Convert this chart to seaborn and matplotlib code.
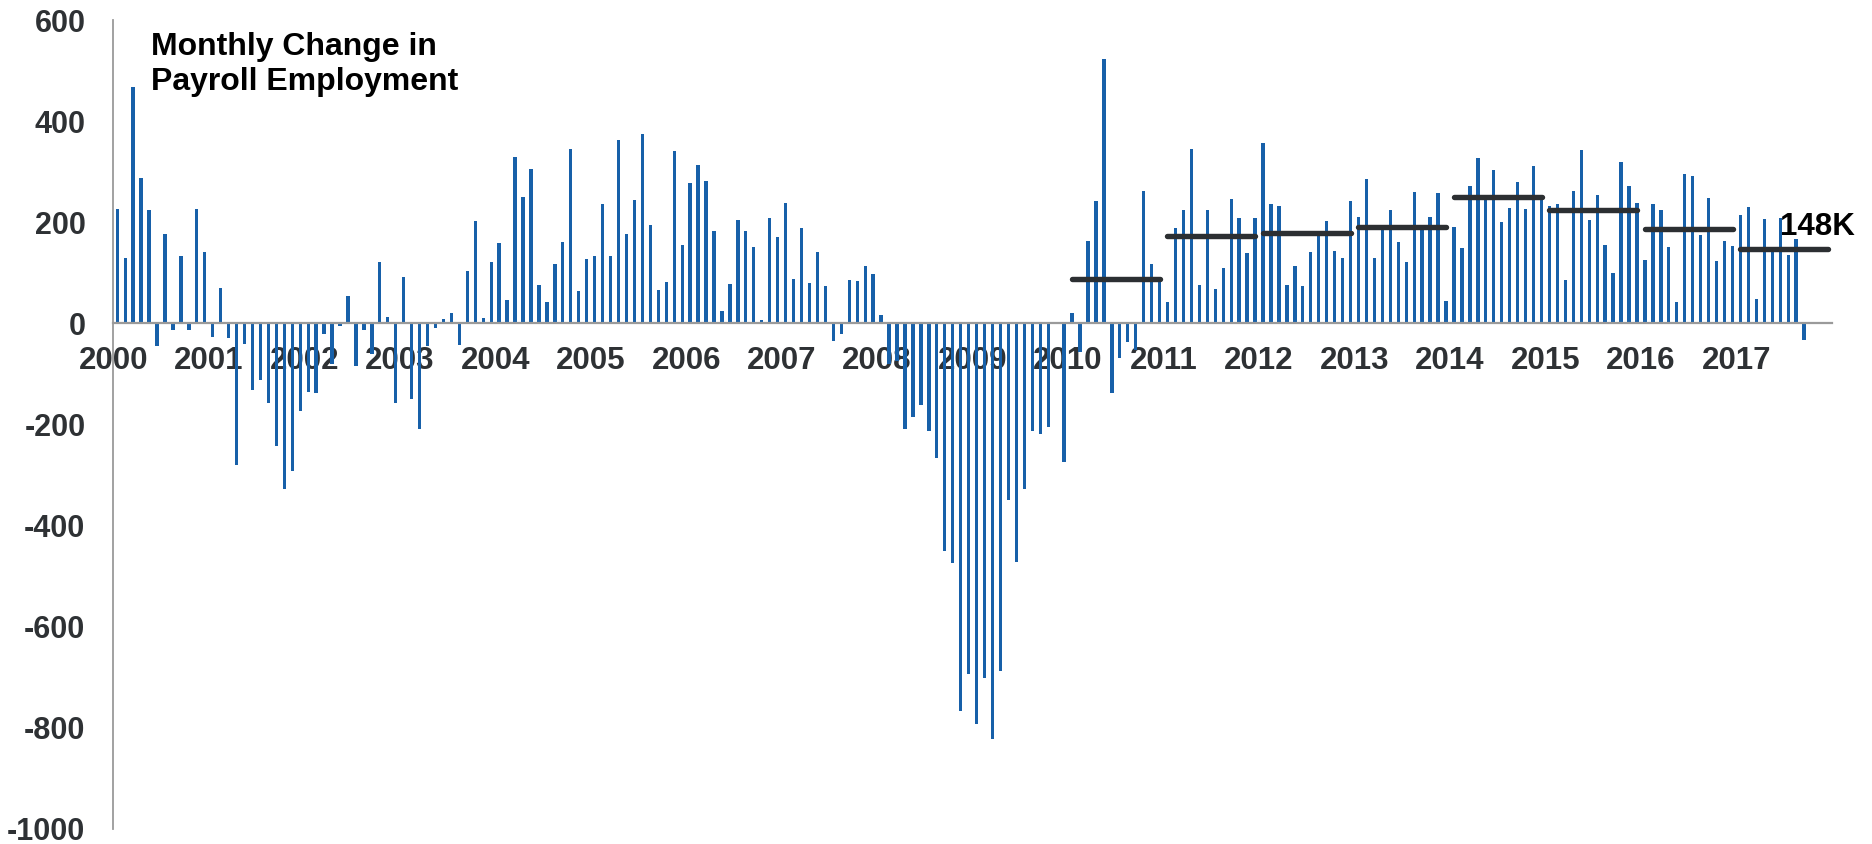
import numpy as np
import pandas as pd
import matplotlib
matplotlib.use("Agg")
import matplotlib.pyplot as plt
import seaborn as sns

# Monthly change in nonfarm payroll employment (thousands), Jan 2000 - Sep 2017
chg_2000 = [227, 130, 468, 287, 225, -45, 176, -14, 134, -14, 227, 141]
chg_2001 = [-26, 70, -28, -281, -41, -132, -112, -157, -242, -328, -292, -173]
chg_2002 = [-136, -137, -22, -80, -5, 55, -84, -14, -60, 121, 12, -158]
chg_2003 = [91, -150, -209, -45, -9, 9, 21, -42, 103, 202, 10, 122]
chg_2004 = [158, 47, 329, 250, 306, 76, 43, 117, 161, 345, 65, 128]
chg_2005 = [134, 237, 134, 363, 176, 244, 374, 194, 66, 82, 340, 155]
chg_2006 = [277, 314, 281, 182, 24, 78, 205, 182, 152, 7, 208, 171]
chg_2007 = [239, 88, 189, 79, 142, 74, -34, -21, 86, 83, 113, 97]
chg_2008 = [16, -80, -75, -209, -185, -161, -213, -266, -450, -473, -766, -694]
chg_2009 = [-793, -702, -822, -687, -349, -471, -328, -213, -219, -204, 3, -274]
chg_2010 = [21, -56, 163, 242, 522, -137, -69, -36, -53, 261, 117, 82]
chg_2011 = [42, 188, 224, 345, 76, 224, 68, 109, 246, 208, 140, 208]
chg_2012 = [357, 236, 232, 76, 113, 74, 142, 175, 202, 144, 130, 242]
chg_2013 = [210, 285, 129, 191, 225, 161, 121, 260, 186, 211, 257, 45]
chg_2014 = [190, 150, 271, 328, 248, 303, 201, 229, 279, 226, 311, 247]
chg_2015 = [233, 237, 85, 262, 343, 205, 253, 155, 99, 320, 271, 238]
chg_2016 = [125, 236, 224, 152, 42, 296, 291, 175, 247, 123, 163, 153]
chg_2017 = [215, 231, 49, 206, 147, 208, 136, 167, -33]

# Average monthly gain for each year of the recovery
avg_years = [2010, 2011, 2012, 2013, 2014, 2015, 2016, 2017]
avg_values = [88, 173, 178, 191, 249, 225, 186, 148]

year_labels = [str(y) for y in range(2000, 2018)]
y_ticks = [-1000, -800, -600, -400, -200, 0, 200, 400, 600]
y_tick_labels = ["-1000", "-800", "-600", "-400", "-200", "0", "200", "400", "600"]

title_text = "Monthly Change in\nPayroll Employment"
last_label = "148K"

BAR_BLUE = "#1760a9"
AVG_DARK = "#2c2f32"
AXIS_GREY = "#9a9a9a"
TEXT_DARK = "#2e3134"

changes = (chg_2000 + chg_2001 + chg_2002 + chg_2003 + chg_2004 + chg_2005
           + chg_2006 + chg_2007 + chg_2008 + chg_2009 + chg_2010 + chg_2011
           + chg_2012 + chg_2013 + chg_2014 + chg_2015 + chg_2016 + chg_2017)
df = pd.DataFrame({"month": np.arange(len(changes)), "change": changes})

sns.set_style("white")
plt.rcParams["font.family"] = ["Liberation Sans", "DejaVu Sans"]
plt.rcParams["font.weight"] = "bold"

fig = plt.figure(figsize=(18.72, 8.44), dpi=100)
ax = fig.add_axes([0.0605, 0.0178, 0.9181, 0.9585])

sns.barplot(data=df, x="month", y="change", color=BAR_BLUE, saturation=1,
            width=0.42, linewidth=0, ax=ax, zorder=1)

# yearly averages as flat segments across each year
first_year = 2000
starts = [(y - first_year) * 12 - 0.5 + 0.45 for y in avg_years]
ends = [(y - first_year) * 12 + 11.5 - 0.45 for y in avg_years]
segs = ax.hlines(avg_values, starts, ends, colors=AVG_DARK, linewidth=3.9,
                 zorder=3)
segs.set_capstyle("round")

ax.text(209, 175, last_label, ha="left", va="baseline", fontsize=22.5,
        fontweight="bold", color="black", zorder=4)

fig.text(0.0805, 0.962, title_text, ha="left", va="top", fontsize=23,
         fontweight="bold", color="black", linespacing=1.22)

# axes: x axis sits on the zero line, year ticks on the boundaries
n_years = len(year_labels)
ax.set_xlim(-0.5, n_years * 12 - 0.5)
ax.set_ylim(-1000, 600)
ax.set_xticks([k * 12 - 0.5 for k in range(n_years + 1)])
ax.set_xticklabels(year_labels + [""])
ax.set_yticks(y_ticks)
ax.set_yticklabels(y_tick_labels)
ax.set_xlabel("")
ax.set_ylabel("")

for side in ("top", "right"):
    ax.spines[side].set_visible(False)
ax.spines["bottom"].set_position(("data", 0))
ax.spines["bottom"].set_color(AXIS_GREY)
ax.spines["bottom"].set_linewidth(1.6)
ax.spines["left"].set_color(AXIS_GREY)
ax.spines["left"].set_linewidth(1.3)
ax.spines["bottom"].set_zorder(2)

ax.tick_params(axis="x", direction="out", length=7, width=1.3,
               color=AXIS_GREY, pad=9, labelsize=22.5, labelcolor=TEXT_DARK)
ax.tick_params(axis="y", direction="out", length=7, width=1.3,
               color=AXIS_GREY, pad=13, labelsize=22, labelcolor=TEXT_DARK)
for lbl in ax.get_xticklabels() + ax.get_yticklabels():
    lbl.set_fontweight("bold")

fig.savefig("out.png", dpi=100, facecolor="white")
